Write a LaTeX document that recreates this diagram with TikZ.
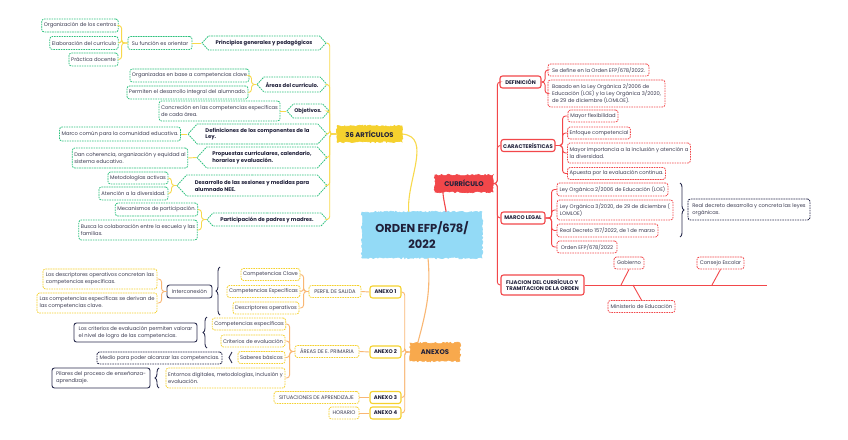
\documentclass[tikz,border=0pt]{standalone}
\usepackage{fontspec}
\setmainfont{Poppins}
\usetikzlibrary{shapes.symbols,decorations.pathmorphing,decorations.pathreplacing,calc}
\definecolor{grn}{HTML}{2EC27E}
\definecolor{ylw}{HTML}{F8D94C}
\definecolor{ylwb}{HTML}{F5D12E}
\definecolor{redc}{HTML}{F2474A}
\definecolor{orgc}{HTML}{F8A94D}
\definecolor{orgl}{HTML}{F9B774}
\definecolor{navy}{HTML}{2B2D4F}
\definecolor{txt}{HTML}{20203A}
\definecolor{txtl}{HTML}{3C3C52}
\definecolor{blu}{HTML}{93DAF6}
\tikzset{
  sml/.style={font=\fontsize{5.2}{6.8}\selectfont},
  bld/.style={font=\fontsize{5.3}{6.8}\selectfont\bfseries},
  sz/.style n args={2}{minimum width=#1pt,minimum height=#2pt},
  leaf/.style={sml,rounded corners=2.5pt,line width=0.8pt,inner xsep=2pt,inner ysep=1pt,text=txtl,fill=white,align=left},
  dsh/.style={dash pattern=on 1.6pt off 0.9pt},
  gleaf/.style={leaf,draw=grn,dsh},
  rleaf/.style={leaf,draw=redc,dsh},
  yleaf/.style={leaf,draw=ylwb,dsh},
  nbox/.style={leaf,draw=navy,line width=0.9pt},
  nboxd/.style={leaf,draw=navy,line width=0.9pt,dsh},
  hexg/.style={bld,signal,signal to=west and east,signal pointer angle=95,draw=grn,dsh,line width=0.8pt,fill=white,text=txt,inner xsep=1pt,inner ysep=1pt,align=left},
  rcat/.style={bld,draw=redc,line width=1.1pt,rounded corners=2.5pt,fill=white,text=txt,inner xsep=1.5pt,inner ysep=1pt,align=left},
  ycat/.style={bld,draw=ylwb,line width=1.1pt,rounded corners=2.5pt,fill=white,text=txt,inner xsep=1.5pt,inner ysep=1pt},
  rough/.style={decorate,decoration={random steps,segment length=1.6pt,amplitude=0.9pt},text=txt,line width=0.6pt},
  yl/.style={draw=ylw,line width=0.9pt,rounded corners=3pt},
  rl/.style={draw=redc,line width=0.9pt,rounded corners=3pt},
  ol/.style={draw=orgl,line width=0.9pt,rounded corners=3pt},
  brc/.style={draw=navy,line width=0.9pt,decorate,decoration={brace,amplitude=4pt}},
  brcs/.style={draw=navy,line width=0.9pt,decorate,decoration={brace,amplitude=3pt}}
}
\begin{document}
\begin{tikzpicture}[x=1pt,y=-1pt]
\useasboundingbox (0,0) rectangle (848,439);
\fill[white] (0,0) rectangle (848,439);

% ---------- main nodes ----------
\node[rough,fill=blu,draw=blu,sz={120}{46},font=\fontsize{11.5}{16}\selectfont\bfseries,align=center] (ctr) at (422,235) {ORDEN EFP/678/\\2022};
\node[rough,fill=ylwb,draw=ylwb,sz={65}{16},font=\fontsize{6.8}{8}\selectfont\bfseries] (art) at (369.5,134) {36 ARTÍCULOS};
\node[rough,fill=redc,draw=redc,sz={58}{17},font=\fontsize{6.8}{8}\selectfont\bfseries] (cur) at (464,183.5) {CURRÍCULO};
\node[rough,fill=orgc,draw=orgc,sz={50}{18},font=\fontsize{6.8}{8}\selectfont\bfseries] (anx) at (435,352) {ANEXOS};

% ---------- 36 articulos ----------
\node[hexg,sz={124}{14}] (p1) at (264,43) {Principios generales y pedagógicos};
\node[hexg,sz={70}{15}] (p2) at (292,84.5) {Áreas del currículo.};
\node[hexg,sz={38}{14}] (p3) at (308,111) {Objetivos.};
\node[hexg,sz={139}{20}] (p4) at (257.5,134) {Definiciones de los componentes de la\\Ley.};
\node[hexg,sz={130}{21}] (p5) at (262,157.5) {Propuestas curriculares, calendario,\\horarios y evaluación.};
\node[hexg,sz={150}{21}] (p6) at (252,185.5) {Desarrollo de las sesiones y medidas para\\alumnado NEE.};
\node[hexg,sz={120}{13}] (p7) at (267,219.5) {Participación de padres y madres.};

\node[gleaf,sz={64}{13}] (su) at (160,43) {Su función es orientar};
\node[gleaf,sz={76}{13}] (g1) at (80,25.5) {Organización de los centros};
\node[gleaf,sz={68}{13}] (g2) at (84,43) {Elaboración del currículo};
\node[gleaf,sz={49}{13}] (g3) at (93.5,59.5) {Práctica docente};
\node[gleaf,sz={115}{13}] (g4) at (189.5,75.5) {Organizadas en base a competencias clave};
\node[gleaf,sz={119}{13}] (g5) at (187.5,92.5) {Permiten el desarrollo integral del alumnado.};
\node[gleaf,sz={119}{20}] (g6) at (219.5,111) {Concreción en las competencias específicas\\de cada área.};
\node[gleaf,sz={116}{14}] (g7) at (120,134) {Marco común para la comunidad educativa.};
\node[gleaf,sz={114}{20}] (g8) at (130,158) {Dan coherencia, organización y equidad al\\sistema educativo.};
\node[gleaf,sz={60}{12}] (g9) at (138,178) {Metodologías activas};
\node[gleaf,sz={69}{13}] (g10) at (133.5,193.5) {Atención a la diversidad.};
\node[gleaf,sz={81}{13}] (g11) at (156.5,209.5) {Mecanismos de participación.};
\node[gleaf,sz={118}{20}] (g12) at (138,230) {Busca la colaboración entre la escuela y las\\familias.};

\foreach \p in {p1,p2,p3,p4,p5,p6,p7}{\draw[yl] (art.west) -- ++(-7,0) |- (\p.east);}
\draw[yl] (p1.west) -- (su.east);
\foreach \g in {g1,g2,g3}{\draw[yl] (su.west) -- ++(-6,0) |- (\g.east);}
\foreach \g in {g4,g5}{\draw[yl] (p2.west) -- ++(-5,0) |- (\g.east);}
\draw[yl] (p3.west) -- (g6.east);
\draw[yl] (p4.west) -- (g7.east);
\draw[yl] (p5.west) -- (g8.east);
\foreach \g in {g9,g10}{\draw[yl] (p6.west) -- ++(-5,0) |- (\g.east);}
\foreach \g in {g11,g12}{\draw[yl] (p7.west) -- ++(-5,0) |- (\g.east);}

% ---------- curriculo ----------
\node[rcat,sz={41}{12}] (def) at (520.5,82) {DEFINICIÓN};
\node[rcat,sz={54}{12}] (car) at (528,145.5) {CARACTERÍSTICAS};
\node[rcat,sz={44}{12}] (mlg) at (523,218) {MARCO LEGAL};
\node[rcat,sz={83}{20}] (fij) at (542.5,285) {FIJACION DEL CURRÍCULO Y\\TRAMITACION DE LA ORDEN};

\node[rleaf,sz={101}{12}] (d1) at (598.5,70) {Se define en la Orden EFP/678/2022.};
\node[rleaf,sz={117}{27}] (d2) at (606.5,93.5) {Basado en la Ley Orgánica 2/2006 de\\Educación (LOE) y la Ley Orgánica 3/2020,\\de 29 de diciembre (LOMLOE).};
\node[rleaf,sz={50}{12}] (c1) at (593,116) {Mayor flexibilidad};
\node[rleaf,sz={62}{12}] (c2) at (599,133) {Enfoque competencial};
\node[rleaf,sz={122}{20}] (c3) at (629,153) {Mayor importancia a la inclusión y atención a\\la diversidad.};
\node[rleaf,sz={97}{12}] (c4) at (616.5,173.5) {Apuesta por la evaluación continua.};
\node[rleaf,sz={111}{13}] (m1) at (612.5,189.5) {Ley Orgánica 2/2006 de Educación (LOE)};
\node[rleaf,sz={116}{20}] (m2) at (615,210) {Ley Orgánica 3/2020, de 29 de diciembre (\\LOMLOE)};
\node[rleaf,sz={101}{13}] (m3) at (607.5,230.5) {Real Decreto 157/2022, de 1 de marzo};
\node[rleaf,sz={60}{12}] (m4) at (587,247) {Orden EFP/678/2022};
\node[nboxd,sz={122}{21}] (rd) at (749,209.5) {Real decreto desarrolla y concreta las leyes\\orgánicas.};
\draw[brc] (680,183) -- (680,237);

\node[rleaf,sz={30}{12}] (gob) at (629,263) {Gobierno};
\node[rleaf,sz={47}{12}] (cons) at (720.5,263) {Consejo Escolar};
\node[rleaf,sz={67}{12}] (mine) at (641.5,306.5) {Ministerio de Educación};
\coordinate (fe) at (767,285);
\coordinate (gf) at (621,285);
\coordinate (cf) at (712,285);
\coordinate (mf) at (633,285);

\foreach \c in {def,car,mlg,fij}{\draw[rl] (cur.east) -- ++(4,0) |- (\c.west);}
\foreach \c in {d1,d2}{\draw[rl] (def.east) -- ++(3.5,0) |- (\c.west);}
\foreach \c in {c1,c2,c3,c4}{\draw[rl] (car.east) -- ++(7,0) |- (\c.west);}
\foreach \c in {m1,m2,m3,m4}{\draw[rl] (mlg.east) -- ++(6,0) |- (\c.west);}
\draw[rl] (fij.east) -- (fe);
\draw[rl] (gob.south) -- (gf);
\draw[rl] (cons.south) -- (cf);
\draw[rl] (mine.north) -- (mf);

% ---------- anexos ----------
\node[ycat,sz={31}{12}] (a1) at (385.5,292) {ANEXO 1};
\node[ycat,sz={31}{12}] (a2) at (385.5,352) {ANEXO 2};
\node[ycat,sz={31}{12}] (a3) at (385.5,397.5) {ANEXO 3};
\node[ycat,sz={31}{12}] (a4) at (385.5,413) {ANEXO 4};
\node[yleaf,sz={52}{12}] (perf) at (335,291.5) {PERFIL DE SALIDA};
\node[yleaf,sz={64}{12}] (ars) at (327,351.5) {ÁREAS DE E. PRIMARIA};
\node[yleaf,sz={85}{12}] (sit) at (316.5,397.5) {SITUACIONES DE APRENDIZAJE};
\node[yleaf,sz={30}{12}] (hor) at (344,413) {HORARIO};

\node[yleaf,sz={57}{12}] (cc) at (270.5,274.5) {Competencias Clave};
\node[yleaf,sz={71}{12}] (ce) at (263.5,291.5) {Competencias Específicas};
\node[yleaf,sz={66}{12}] (dop) at (266,308) {Descriptores operativos};
\draw[brc] (220,315) -- (220,267);
\node[nbox,sz={45}{13}] (inter) at (189.5,291.5) {Interconexión};
\node[yleaf,sz={114}{20}] (i1) at (100,279) {Los descriptores operativos concretan las\\competencias específicas.};
\node[yleaf,sz={120}{20}] (i2) at (97,303) {Las competencias específicas se derivan de\\las competencias clave.};

\node[yleaf,sz={72}{12}] (e1) at (249,324) {Competencias específicas};
\node[yleaf,sz={64}{12}] (e2) at (253,341) {Criterios de evaluación};
\node[yleaf,sz={47}{12}] (e3) at (261.5,357.5) {Saberes básicos};
\node[yleaf,sz={119}{20}] (e4) at (225.5,378) {Entornos digitales, metodologías, inclusión y\\evaluación.};
\draw[brc] (207,348) -- (207,317);
\node[nbox,sz={123}{19}] (crit) at (135.5,332.5) {Los criterios de evaluación permiten valorar\\el nivel de logro de las competencias.};
\draw[brcs] (232,363) -- (232,352);
\node[nboxd,sz={125}{12}] (medio) at (159.5,358) {Medio para poder alcanzar las competencias.};
\draw[brc] (159,388) -- (159,368);
\node[nbox,sz={98}{20}] (pil) at (101,378) {Pilares del proceso de enseñanza-\\aprendizaje.};

\foreach \a in {a1,a2,a3,a4}{\draw[ol] (anx.west) -- ++(-5,0) |- (\a.east);}
\draw[ol] (a1.west) -- (perf.east);
\draw[ol] (a2.west) -- (ars.east);
\draw[ol] (a3.west) -- (sit.east);
\draw[ol] (a4.west) -- (hor.east);
\foreach \c in {cc,ce,dop}{\draw[ol] (perf.west) -- ++(-5,0) |- (\c.east);}
\foreach \c in {i1,i2}{\draw[ol] (inter.west) -- ++(-5,0) |- (\c.east);}
\foreach \c in {e1,e2,e3,e4}{\draw[ol] (ars.west) -- ++(-5,0) |- (\c.east);}

% ---------- main connectors ----------
\draw[draw=ylw,line width=1.1pt] (art.east) to[out=-5,in=95] ($(ctr.north west)!0.39!(ctr.north east)$);
\draw[draw=redc,line width=1.1pt] ($(cur.south west)!0.14!(cur.south east)$) to[out=-85,in=100] ($(ctr.north west)!0.7!(ctr.north east)$);
\draw[draw=orgl,line width=1.1pt] ($(ctr.south west)!0.55!(ctr.south east)$) to[out=-85,in=75] ($(anx.north west)!0.16!(anx.north east)$);
\end{tikzpicture}
\end{document}
